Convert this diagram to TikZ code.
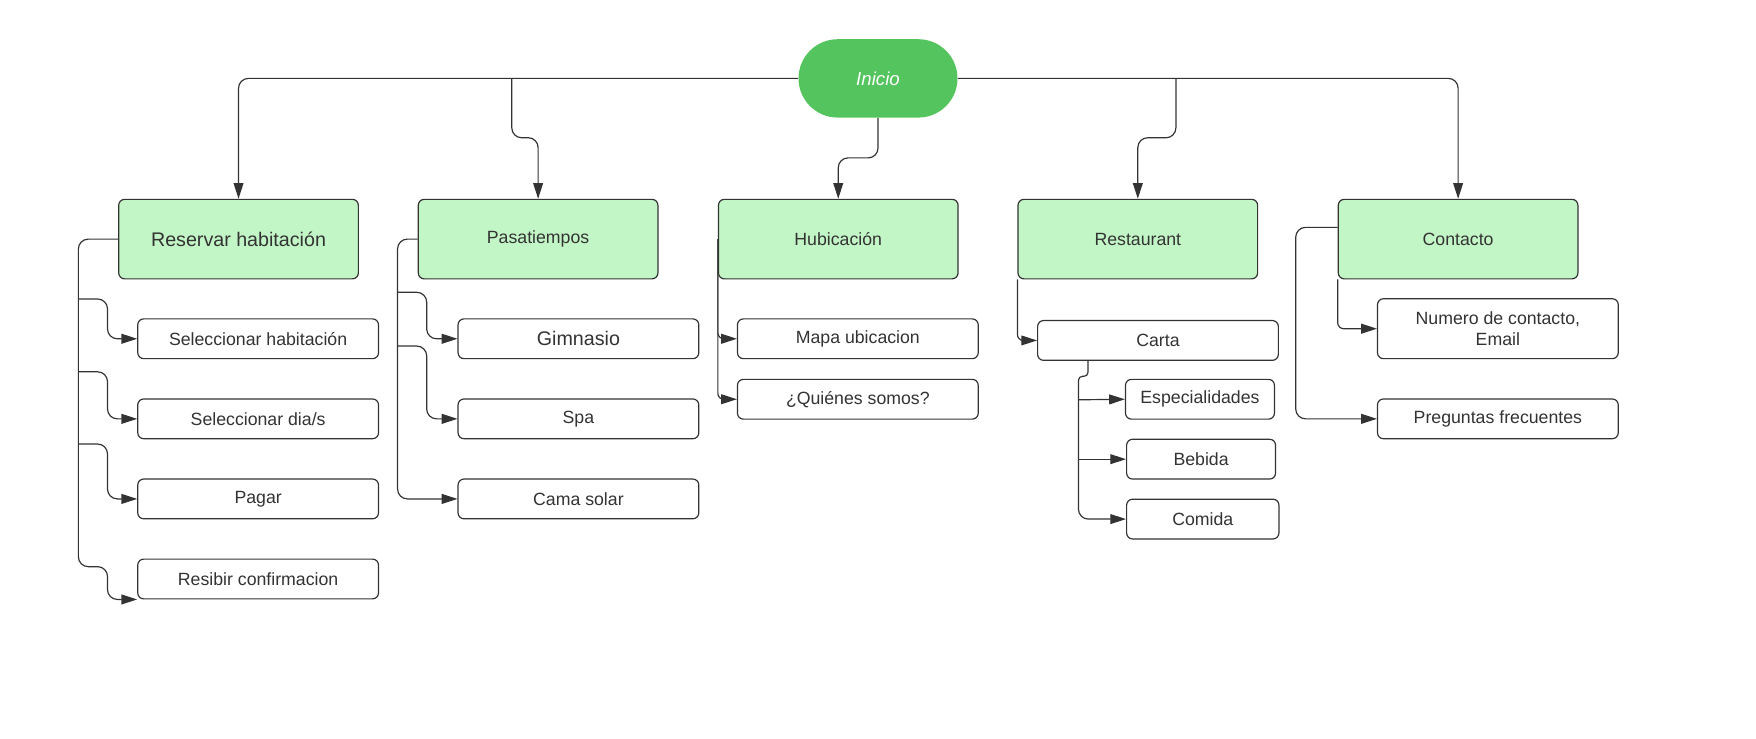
\documentclass[tikz,border=0pt]{standalone}
\usepackage{fontspec}
\setmainfont{Liberation Sans}
\usetikzlibrary{arrows.meta}
\definecolor{inicioGreen}{HTML}{54C45E}
\definecolor{boxGreen}{HTML}{C3F6C6}
\definecolor{lineGray}{HTML}{333333}

\begin{document}
\begin{tikzpicture}[x=0.02cm, y=-0.02cm,
    mainbox/.style={draw=lineGray, fill=boxGreen, rounded corners=3pt, line width=0.6pt,
      minimum width=4.28cm, minimum height=1.42cm, text=lineGray, font=\fontsize{9}{11}\selectfont},
    subbox/.style={draw=lineGray, fill=white, rounded corners=3pt, line width=0.6pt,
      minimum width=4.3cm, minimum height=0.71cm, text=lineGray, font=\fontsize{9}{11}\selectfont},
    smallbox/.style={subbox, minimum width=2.66cm},
    link/.style={draw=lineGray, line width=0.6pt, rounded corners=5pt, -{Triangle[length=8pt,width=5pt]}}
  ]
    \useasboundingbox (0,0) rectangle (1568,659);

    % start node
    \node[fill=inicioGreen, rounded corners=0.7cm, minimum width=2.84cm, minimum height=1.4cm,
      text=white, font=\fontsize{9.5}{11}\selectfont\itshape] (inicio) at (784,70) {Inicio};

    % the five sections
    \node[mainbox, font=\fontsize{10}{12}\selectfont] (reservar) at (213,213.5) {Reservar habitación};
    \node[mainbox] (pasatiempos) at (480.5,213.5) {Pasatiempos};
    \node[mainbox] (hubicacion) at (748.5,213.5) {Hubicación};
    \node[mainbox] (restaurant) at (1016,213.5) {Restaurant};
    \node[mainbox] (contacto) at (1302,213.5) {Contacto};

    % reservar steps
    \node[subbox] (selhab) at (230.5,302.5) {Seleccionar habitación};
    \node[subbox] (seldia) at (230.5,374) {Seleccionar dia/s};
    \node[subbox] (pagar) at (230.5,445.5) {Pagar};
    \node[subbox] (resibir) at (230.5,517) {Resibir confirmacion};

    % pasatiempos
    \node[subbox, font=\fontsize{10}{12}\selectfont] (gimnasio) at (516.5,302.5) {Gimnasio};
    \node[subbox] (spa) at (516.5,374) {Spa};
    \node[subbox] (cama) at (516.5,445.5) {Cama solar};

    % hubicacion
    \node[subbox] (mapa) at (766,302.5) {Mapa ubicacion};
    \node[subbox] (quienes) at (766,356.5) {¿Quiénes somos?};

    % restaurant
    \node[subbox] (carta) at (1034,304) {Carta};
    \node[smallbox] (especial) at (1071.5,356.5) {Especialidades};
    \node[smallbox] (bebida) at (1072.5,410) {Bebida};
    \node[smallbox, minimum width=2.72cm] (comida) at (1074,463.5) {Comida};

    % contacto
    \node[subbox, minimum height=1.07cm, align=center] (numero) at (1337.5,293.5) {Numero de contacto,\\ Email};
    \node[subbox] (preguntas) at (1337.5,374) {Preguntas frecuentes};

    % joints on the lines
    \coordinate (pjoin) at (457,70);
    \coordinate (rjoin) at (1050,70);
    \coordinate (r1) at (70,267);
    \coordinate (r2) at (70,332);
    \coordinate (r3) at (70,396.5);
    \coordinate (p1) at (355,261);
    \coordinate (p2) at (355,309);
    \coordinate (cstem) at (971.5,321.5);
    \coordinate (c1) at (963,357);
    \coordinate (c2) at (963,410);

    % from inicio to the sections
    \draw[link] (inicio.west) -| (reservar.north);
    \draw[link] (pjoin) -- (457,123) -| (pasatiempos.north);
    \draw[link] (inicio.south) -- (784,141) -| (hubicacion.north);
    \draw[link] (rjoin) -- (1050,123) -| (restaurant.north);
    \draw[link] (inicio.east) -| (contacto.north);

    % reservar habitacion
    \draw[link] (reservar.west) -| (70,506) -- (96,506) |- (resibir.south west);
    \draw[link] (r1) -- (96,267) |- (selhab.west);
    \draw[link] (r2) -- (96,332) |- (seldia.west);
    \draw[link] (r3) -- (96,396.5) |- (pagar.west);

    % pasatiempos
    \draw[link] (pasatiempos.west) -| (355,445.5) -- (cama.west);
    \draw[link] (p1) -- (381,261) |- (gimnasio.west);
    \draw[link] (p2) -- (381,309) |- (spa.west);

    % hubicacion
    \draw[link, rounded corners=3pt] (hubicacion.west) |- (mapa.west);
    \draw[link, rounded corners=3pt] (hubicacion.west) |- (quienes.west);

    % restaurant and carta
    \draw[link, rounded corners=3pt] (restaurant.south west) |- (carta.west);
    \draw[link, rounded corners=2pt] (cstem) -- (971.5,336) -- (963,336) [rounded corners=5pt] |- (comida.west);
    \draw[link] (c1) -- (especial.west);
    \draw[link] (c2) -- (bebida.west);

    % contacto
    \draw[link] ([yshift=0.21cm]contacto.west) -| (1157,374) -- (preguntas.west);
    \draw[link, rounded corners=3pt] (contacto.south west) |- (numero.west);

  \end{tikzpicture}
\end{document}
